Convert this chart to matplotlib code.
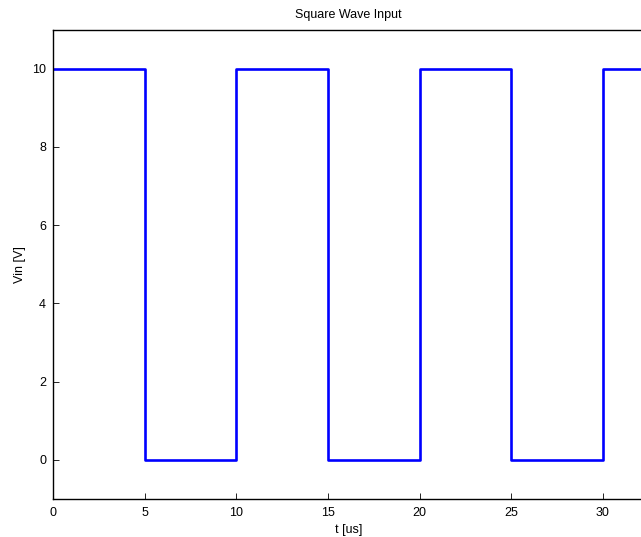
import matplotlib
matplotlib.use('Agg')
import matplotlib.pyplot as plt

plt.rcParams['font.family'] = ['Liberation Sans', 'DejaVu Sans']

# square wave: switching times and levels
t_switch = [0, 5, 10, 15, 20, 25, 30, 35]
v_level = [10, 0, 10, 0, 10, 0, 10, 10]

x_ticks = [0, 5, 10, 15, 20, 25, 30]
y_ticks = [0, 2, 4, 6, 8, 10]

fig = plt.figure(figsize=(6.41, 5.37), dpi=100)
# axes runs slightly past the right edge of the picture
ax = fig.add_axes([53 / 641, 38 / 537, 591 / 641, 469.5 / 537])

ax.step(t_switch, v_level, where='post', color=(0, 0, 1), linewidth=1.9)

ax.set_xlim(0, 591 / 18.33)
ax.set_ylim(-1, 11)
ax.set_xticks(x_ticks)
ax.set_yticks(y_ticks)
ax.tick_params(direction='in', length=4, width=0.6, labelsize=9)
ax.tick_params(axis='x', pad=6)
ax.tick_params(axis='y', pad=5)
for s in ax.spines.values():
    s.set_linewidth(1.0)

ax.set_title('Square Wave Input', fontsize=9, pad=8)
ax.set_xlabel('t [us]', fontsize=9, labelpad=3)
ax.set_ylabel('Vin [V]', fontsize=9, labelpad=4)

fig.savefig('out.png', dpi=100)
